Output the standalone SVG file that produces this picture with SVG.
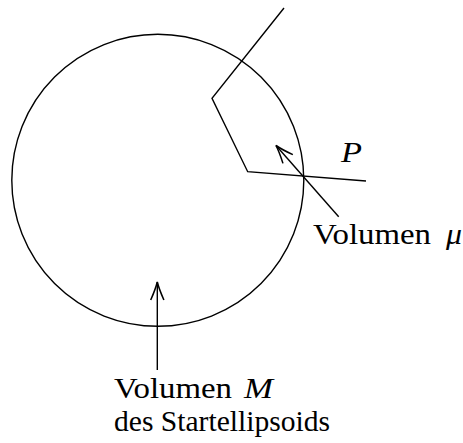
<svg xmlns="http://www.w3.org/2000/svg" width="463" height="443" viewBox="0 0 463 443">
<style>
.ln{fill:none;stroke:#000;stroke-width:1.4;stroke-linejoin:miter}
.t{font-family:"Liberation Serif","Times New Roman",serif;font-size:29px;fill:#000}
.i{font-style:italic}
</style>
<defs>
<marker id="ah" markerUnits="userSpaceOnUse" markerWidth="30" markerHeight="30" viewBox="-20 -10 25 20" refX="0" refY="0" orient="auto">
<path d="M-15,-5.5 Q-6,-1.5 0,0 Q-6,1.5 -15,5.5" fill="none" stroke="#000" stroke-width="1.3"/>
</marker>
</defs>
<rect width="463" height="443" fill="#fff"/>
<g id="ellipsoid">
<circle cx="157.8" cy="180.3" r="146" class="ln"/>
</g>
<g id="path-curve">
<polyline class="ln" points="284,8 212,98.3 247.7,171.7 366,181"/>
</g>
<g id="connectors">
<line class="ln" x1="338.7" y1="216.7" x2="276" y2="145.5" marker-end="url(#ah)"/>
<line class="ln" x1="157.3" y1="370" x2="157.3" y2="282" marker-end="url(#ah)"/>
</g>
<g id="label-P">
<text class="t i" x="341" y="162" textLength="21" lengthAdjust="spacingAndGlyphs">P</text>
</g>
<g id="label-mu">
<text class="t" x="313" y="243.5" textLength="118" lengthAdjust="spacingAndGlyphs">Volumen</text>
<text class="t i" x="446" y="243.5" textLength="16" lengthAdjust="spacingAndGlyphs">μ</text>
</g>
<g id="label-M">
<text class="t" x="114" y="398" textLength="118" lengthAdjust="spacingAndGlyphs">Volumen</text>
<text class="t i" x="244" y="398" textLength="29" lengthAdjust="spacingAndGlyphs">M</text>
<text class="t" x="114" y="430.5" textLength="216" lengthAdjust="spacingAndGlyphs">des Startellipsoids</text>
</g>
</svg>
